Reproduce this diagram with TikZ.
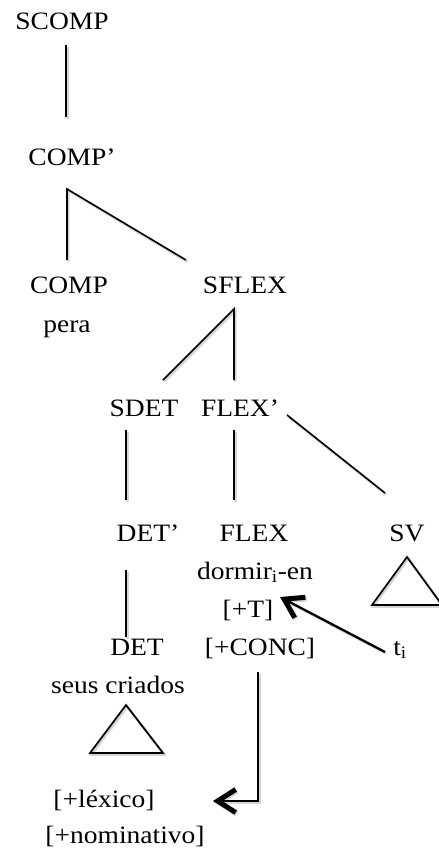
\documentclass[tikz,border=0pt]{standalone}
\usepackage{fontspec}
\setmainfont{Liberation Serif}[FakeStretch=1.1]
\usetikzlibrary{arrows.meta}

\begin{document}
\begin{tikzpicture}[
  x=1pt, y=-1pt,
  lbl/.style={anchor=base, inner sep=0pt, font=\fontsize{25}{29}\selectfont},
  soft/.style={preaction={draw=black!16, line width=2.6pt,
      transform canvas={shift={(1.3pt,-1.6pt)}}}},
  branch/.style={draw=black, line width=1.6pt, soft},
  tri/.style={draw=black, line width=1.7pt, line join=miter, soft},
  move/.style={draw=black, line width=2.3pt, line join=miter, soft,
      -{Straight Barb[length=18pt, width=23pt, line width=5pt]}}
]
\useasboundingbox (0,0) rectangle (439,855);

% category labels and words
\node[lbl] (scomp)   at (62,29)   {SCOMP};
\node[lbl] (compbar) at (72,165)  {COMP’};
\node[lbl] (comp)    at (69,293)  {COMP};
\node[lbl] (pera)    at (67,332)  {pera};
\node[lbl] (sflex)   at (245,293) {SFLEX};
\node[lbl] (sdet)    at (144,416) {SDET};
\node[lbl] (flexbar) at (240,416) {FLEX’};
\node[lbl] (detbar)  at (148,541) {DET’};
\node[lbl] (flex)    at (254,541) {FLEX};
\node[lbl] (sv)      at (407,541) {SV};
\node[lbl] (verb)    at (255,579) {dormir\textsubscript{i}-en};
\node[lbl] (tfeat)   at (248,617) {[+T]};
\node[lbl] (det)     at (137,655) {DET};
\node[lbl] (conc)    at (260,655) {[+CONC]};
\node[lbl] (trace)   at (400,655) {t\textsubscript{i}};
\node[lbl] (noun)    at (118,693) {seus criados};
\node[lbl] (lex)     at (104,807) {[+léxico]};
\node[lbl] (nom)     at (125,843) {[+nominativo]};

% branch end points
\coordinate (p1a) at (66,45);   \coordinate (p1b) at (66,117);
\coordinate (p2)  at (67,189);  \coordinate (p2a) at (67,260);
\coordinate (p2b) at (186,260);
\coordinate (p3)  at (234,309); \coordinate (p3a) at (163,380);
\coordinate (p3b) at (234,380);
\coordinate (p4a) at (287,415); \coordinate (p4b) at (385,493);
\coordinate (p5a) at (126,430); \coordinate (p5b) at (126,500);
\coordinate (p6a) at (234,430); \coordinate (p6b) at (234,500);
\coordinate (p7a) at (126,570); \coordinate (p7b) at (126,637);

% triangles
\coordinate (sv1) at (407,557); \coordinate (sv2) at (372,605);
\coordinate (sv3) at (442,605);
\coordinate (dt1) at (126,705); \coordinate (dt2) at (90,753);
\coordinate (dt3) at (163,753);

% arrow end points
\coordinate (mvA) at (385,652); \coordinate (mvB) at (280,597);
\coordinate (agA) at (258,672); \coordinate (agC) at (258,801);
\coordinate (agB) at (213,801);

% tree branches
\draw[branch] (p1a) -- (p1b);
\draw[branch] (p2a) -- (p2) -- (p2b);
\draw[branch] (p3a) -- (p3) -- (p3b);
\draw[branch] (p4a) -- (p4b);
\draw[branch] (p5a) -- (p5b);
\draw[branch] (p6a) -- (p6b);
\draw[branch] (p7a) -- (p7b);

% abbreviated constituents
\draw[tri] (sv1) -- (sv2) -- (sv3) -- cycle;
\draw[tri] (dt1) -- (dt2) -- (dt3) -- cycle;

% verb movement and agreement
\draw[move] (mvA) -- (mvB);
\draw[move] (agA) -- (agC) -- (agB);
\end{tikzpicture}
\end{document}
